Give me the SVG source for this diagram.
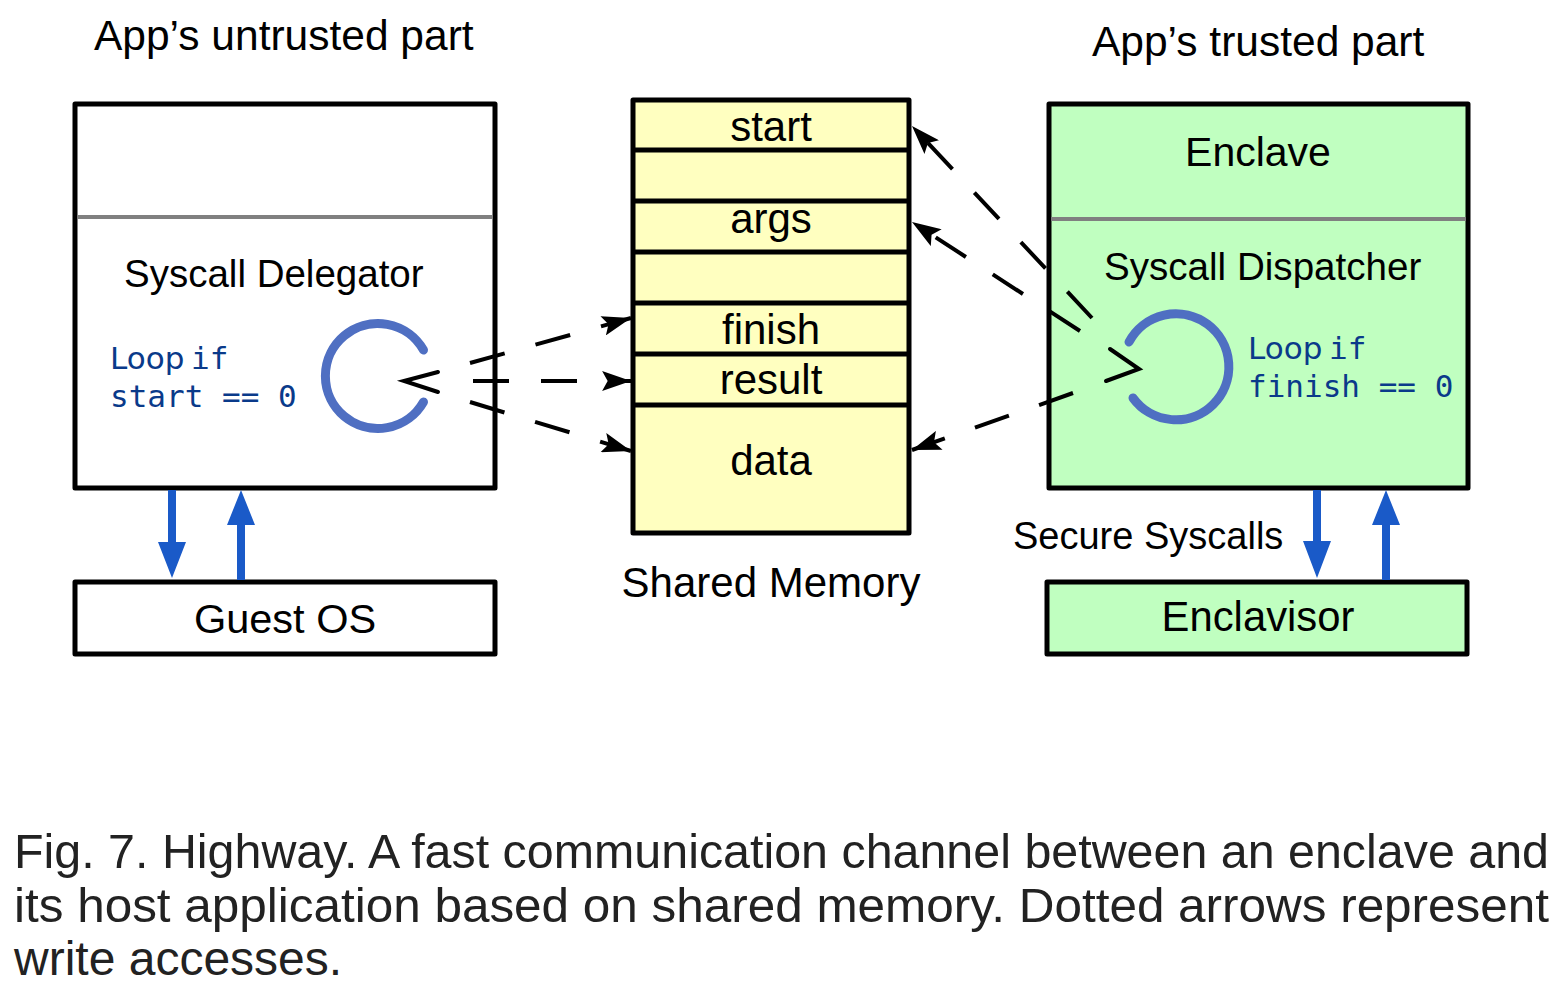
<svg xmlns="http://www.w3.org/2000/svg" width="1559" height="995" viewBox="0 0 1559 995">
<style>
.t{font-family:"Liberation Sans",Arial,sans-serif;fill:#000}
.box{stroke:#000;stroke-width:5;stroke-linejoin:round}
.div{stroke:#808080;stroke-width:4}
.mono{font-family:"DejaVu Sans Mono",monospace;fill:#0a3a8a;font-size:31px}
.ring{fill:none;stroke:#4f6fc2;stroke-width:9;stroke-linecap:round}
.dash{fill:none;stroke:#000;stroke-width:4;stroke-dasharray:36 32}
.chev{fill:none;stroke:#000;stroke-width:4;stroke-linecap:round}
.blue{fill:#1a5ac8}
.cap{font-family:"Liberation Sans",Arial,sans-serif;fill:#222;font-size:48px}
</style>
<defs>
<marker id="ah" markerUnits="userSpaceOnUse" markerWidth="30" markerHeight="20" viewBox="0 0 26 18" refX="26" refY="9" orient="auto">
<path d="M0,0 L26,9 L0,18 L5,9 Z" fill="#000"/>
</marker>
</defs>
<rect width="1559" height="995" fill="#fff"/>

<g id="title-left"><text class="t" x="94" y="50" font-size="42.5">App’s untrusted part</text></g>
<g id="title-right"><text class="t" x="1092" y="56" font-size="42.5">App’s trusted part</text></g>

<g id="delegator">
<rect class="box" x="75" y="104" width="420" height="384" fill="#fff"/>
<line class="div" x1="77" y1="217" x2="493" y2="217"/>
<text class="t" x="124" y="287" font-size="38.5">Syscall Delegator</text>
<text class="mono" x="110" y="369"><tspan font-family="DejaVu Sans, sans-serif">Loop</tspan><tspan x="191">if</tspan></text>
<text class="mono" x="110" y="407">start == 0</text>
<path class="ring" d="M423.5,350 A52.5,52.5 0 1 0 423.5,402"/>
<polyline class="chev" points="438,372 404,381 438,392"/>
</g>

<g id="guest-os">
<rect class="box" x="75" y="582" width="420" height="72" fill="#fff"/>
<text class="t" x="285" y="633" font-size="41.5" text-anchor="middle">Guest OS</text>
</g>

<g id="shared-memory">
<rect class="box" x="633" y="100" width="276" height="433" fill="#ffffc0"/>
<g stroke="#000" stroke-width="5">
<line x1="633" y1="150" x2="909" y2="150"/>
<line x1="633" y1="201" x2="909" y2="201"/>
<line x1="633" y1="252" x2="909" y2="252"/>
<line x1="633" y1="303" x2="909" y2="303"/>
<line x1="633" y1="354" x2="909" y2="354"/>
<line x1="633" y1="405" x2="909" y2="405"/>
</g>
<g class="t" font-size="42" text-anchor="middle">
<text x="771" y="141">start</text>
<text x="771" y="233">args</text>
<text x="771" y="344">finish</text>
<text x="771" y="394">result</text>
<text x="771" y="475">data</text>
</g>
<text class="t" x="771" y="597" font-size="42" text-anchor="middle">Shared Memory</text>
</g>

<g id="dispatcher">
<rect class="box" x="1049" y="104" width="419" height="384" fill="#c0ffc0"/>
<line class="div" x1="1051" y1="219" x2="1466" y2="219"/>
<text class="t" x="1258" y="166" font-size="41" text-anchor="middle">Enclave</text>
<text class="t" x="1104" y="280" font-size="38.6">Syscall Dispatcher</text>
<text class="mono" x="1248" y="359"><tspan font-family="DejaVu Sans, sans-serif">Loop</tspan><tspan x="1329">if</tspan></text>
<text class="mono" x="1248" y="397">finish == 0</text>
<path class="ring" d="M1129,342 A53,53 0 1 1 1133,398"/>
<polyline class="chev" points="1110,349 1139,369 1106,381"/>
</g>

<g id="enclavisor">
<rect class="box" x="1047" y="582" width="420" height="72" fill="#c0ffc0"/>
<text class="t" x="1258" y="631" font-size="41.8" text-anchor="middle">Enclavisor</text>
</g>
<text class="t" x="1013" y="549" font-size="38">Secure Syscalls</text>

<g id="connectors">
<path class="dash" d="M470,363 L631,318" marker-end="url(#ah)"/>
<path class="dash" d="M473,381 L631,381" marker-end="url(#ah)"/>
<path class="dash" d="M470,402 L631,451" marker-end="url(#ah)"/>
<path class="dash" d="M1092,318 L912,126" marker-end="url(#ah)"/>
<path class="dash" d="M1080,331 L912,222" marker-end="url(#ah)"/>
<path class="dash" d="M1073,393 L912,450" marker-end="url(#ah)"/>
<path class="blue" d="M168,490 H176 V542 H186 L172,578 L158,542 H168 Z"/>
<path class="blue" d="M237,580 H245 V525 H255 L241,490 L227,525 H237 Z"/>
<path class="blue" d="M1313,490 H1321 V541 H1331 L1317,578 L1303,541 H1313 Z"/>
<path class="blue" d="M1382,580 H1390 V525 H1400 L1386,490 L1372,525 H1382 Z"/>
</g>

<g id="caption">
<text class="cap" x="14" y="868" textLength="1535" lengthAdjust="spacingAndGlyphs">Fig. 7. Highway. A fast communication channel between an enclave and</text>
<text class="cap" x="14" y="922" textLength="1535" lengthAdjust="spacingAndGlyphs">its host application based on shared memory. Dotted arrows represent</text>
<text class="cap" x="14" y="975">write accesses.</text>
</g>
</svg>
